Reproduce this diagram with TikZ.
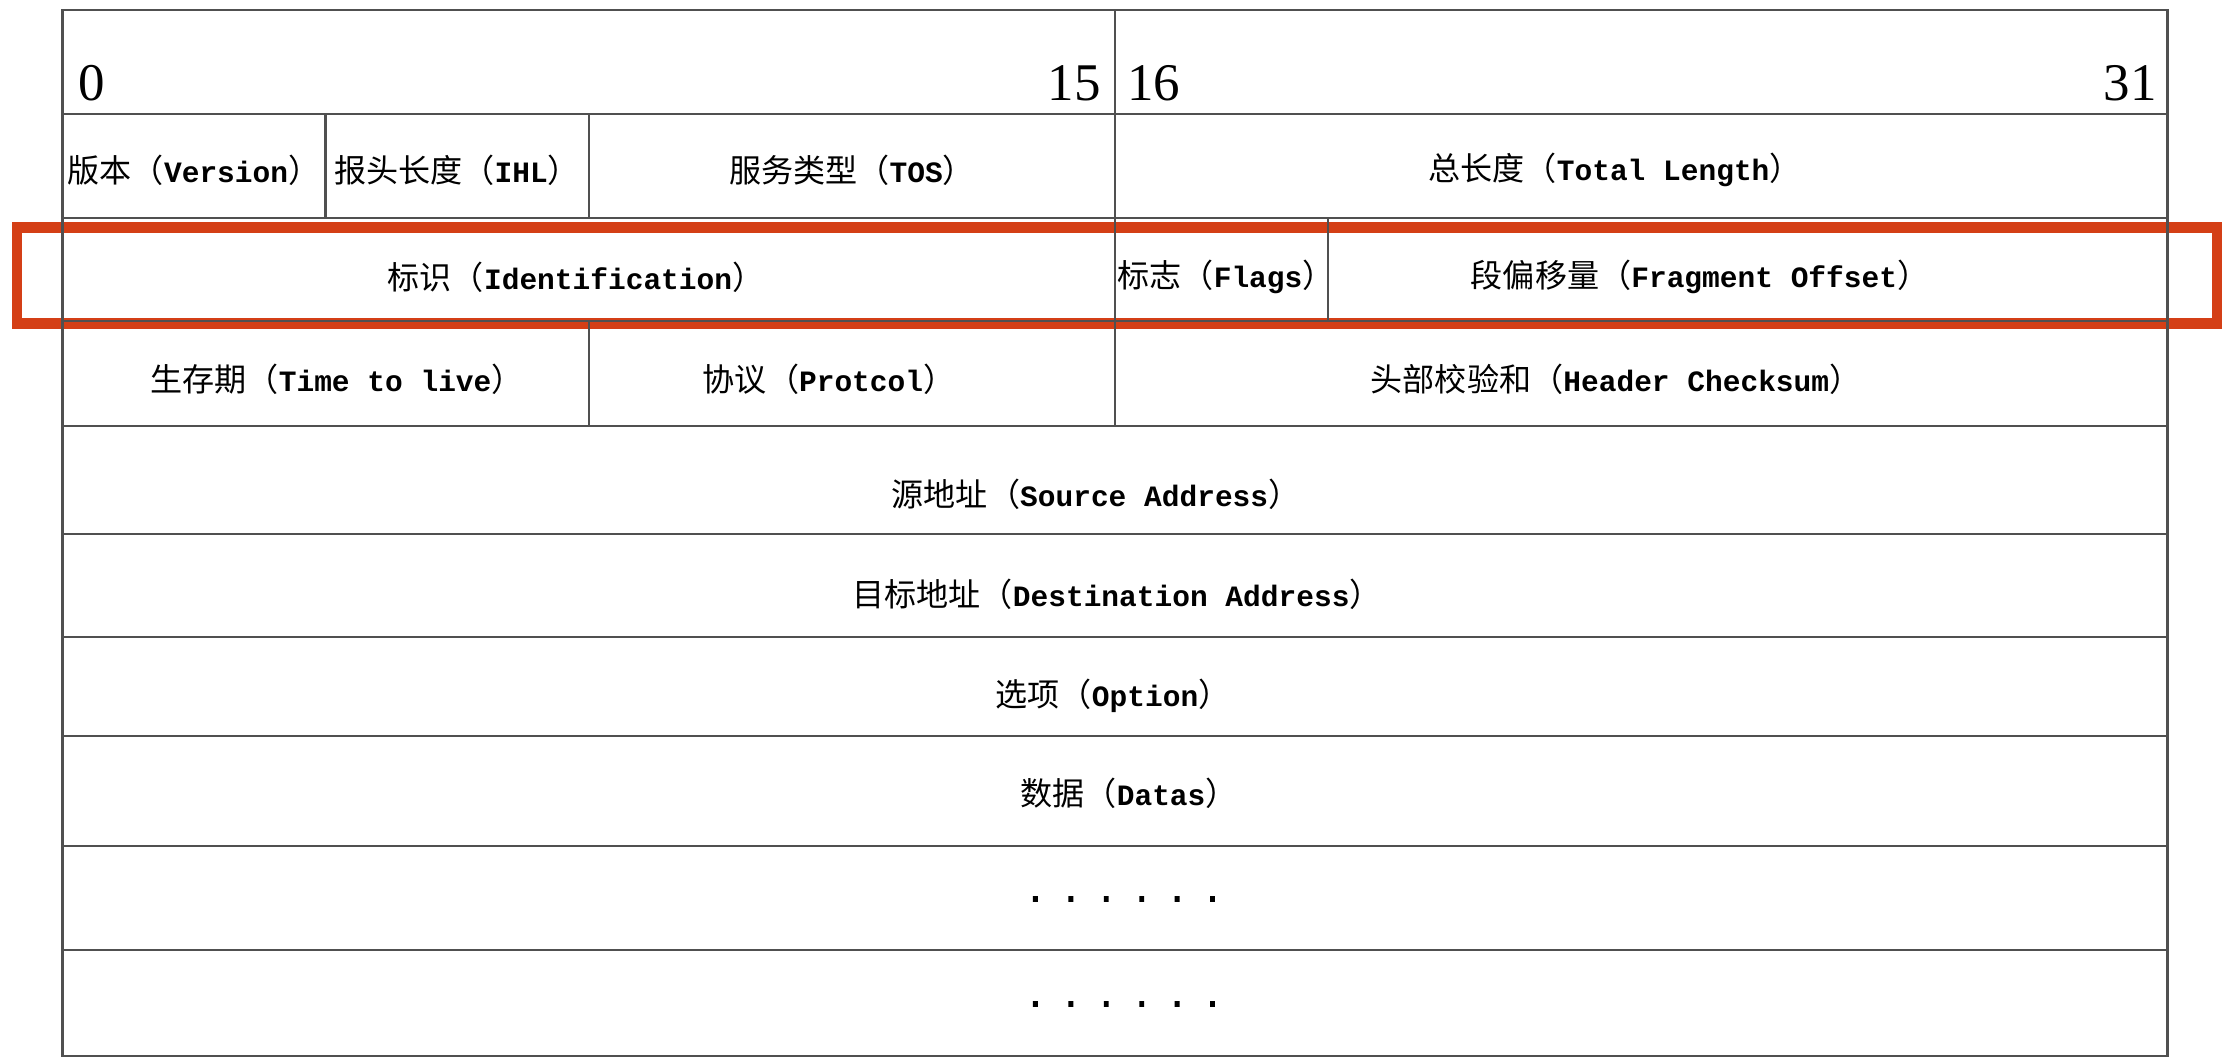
\documentclass[tikz,border=0pt]{standalone}
\usepackage{fontspec}
\usepackage{tikz}
\usetikzlibrary{positioning}
\newfontfamily\cjkfont{Noto Sans CJK SC}
\newfontfamily\monofont{Liberation Mono}
\newfontfamily\dotfont{Liberation Mono}[FakeBold=5]
\newfontfamily\numfont{Liberation Serif}
\definecolor{cFrame}{RGB}{80,80,80}
\definecolor{cMark}{RGB}{212,63,22}
\newcommand{\zh}[1]{{\cjkfont\mdseries\fontsize{13.7}{15}\selectfont #1}}
\newcommand{\fieldtext}[2]{\zh{#1（}#2\zh{）}}
\tikzset{
	tableline/.style={draw=cFrame, line width=1.1pt},
	hibox/.style    ={draw=cMark, line width=4.3pt},
	fieldlbl/.style ={font=\monofont\bfseries\fontsize{12.6}{15}\selectfont, inner sep=0pt, anchor=center},
	dotrow/.style   ={font=\dotfont\fontsize{12.6}{15}\selectfont, inner sep=0pt, anchor=center},
	bitnum/.style   ={font=\numfont\fontsize{22.6}{26}\selectfont, inner sep=0pt},
}
\begin{document}
\begin{tikzpicture}[x=0.015cm, y=-0.015cm]
	\useasboundingbox (0,0) rectangle (2229,1062);
	\fill[white] (0,0) rectangle (2229,1062);
	% highlighted row
	\draw[hibox] (17,227.5) rectangle (2217,323.5);
	% table frame and rows
	\draw[tableline] (62.5,10) rectangle (2167.5,1056);
	\foreach \y in {114,218,321,426,534,637,736,846,950}
		\draw[tableline] (62.5,\y) -- (2167.5,\y);
	\draw[tableline] (1115,10) -- (1115,426);
	\draw[tableline] (325.6,114) -- (325.6,218);
	\draw[tableline] (589,114) -- (589,218);
	\draw[tableline] (589,321) -- (589,426);
	\draw[tableline] (1328,218) -- (1328,321);
	% bit numbers
	\node[bitnum, anchor=base west] (b0) at (78,100) {0};
	\node[bitnum, anchor=base east] (b15) at (1101,100) {15};
	\node[bitnum, anchor=base west] (b16) at (1127,100) {16};
	\node[bitnum, anchor=base east] (b31) at (2157,100) {31};
	% fields
	\node[fieldlbl] (ver) at (194,170) {\fieldtext{版本}{Version}};
	\node[fieldlbl] (ihl) at (457,170) {\fieldtext{报头长度}{IHL}};
	\node[fieldlbl] (tos) at (852,170) {\fieldtext{服务类型}{TOS}};
	\node[fieldlbl] (tlen) at (1615,170) {\fieldtext{总长度}{Total Length}};
	\node[fieldlbl] (ident) at (576,277) {\fieldtext{标识}{Identification}};
	\node[fieldlbl, anchor=west] (flags) at (1117,277) {\fieldtext{标志}{Flags}};
	\node[fieldlbl] (fragoff) at (1700,277) {\fieldtext{段偏移量}{Fragment Offset}};
	\node[fieldlbl] (ttl) at (337,379) {\fieldtext{生存期}{Time to live}};
	\node[fieldlbl] (proto) at (829,379) {\fieldtext{协议}{Protcol}};
	\node[fieldlbl] (chksum) at (1616,379) {\fieldtext{头部校验和}{Header Checksum}};
	\node[fieldlbl] (src) at (1096,494) {\fieldtext{源地址}{Source Address}};
	\node[fieldlbl] (dst) at (1117,594) {\fieldtext{目标地址}{Destination Address}};
	\node[fieldlbl] (opt) at (1113,696) {\fieldtext{选项}{Option}};
	\node[fieldlbl] (data) at (1129,793) {\fieldtext{数据}{Datas}};
	\node[dotrow] (more1) at (1124,899) {.\ .\ .\ .\ .\ .};
	\node[dotrow] (more2) at (1124,1004) {.\ .\ .\ .\ .\ .};
\end{tikzpicture}
\end{document}
